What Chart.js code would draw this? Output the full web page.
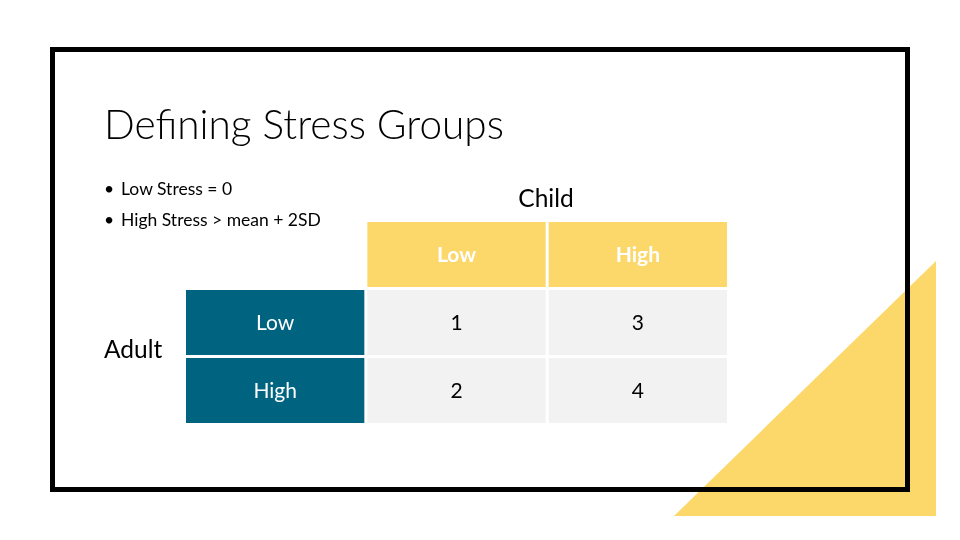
<!DOCTYPE html>
<html>
<head>
<meta charset="utf-8">
<script src="https://cdn.jsdelivr.net/npm/chart.js@4/dist/chart.umd.min.js"></script>
<style>
  html, body { margin: 0; padding: 0; background: #ffffff; }
  #slide { position: relative; width: 960px; height: 540px; overflow: hidden; background: #ffffff; font-family: Lato, "Open Sans", sans-serif; }
  #tri { position: absolute; left: 0; top: 0; }
  #frame { position: absolute; left: 50px; top: 47px; width: 860px; height: 445px; box-sizing: border-box; border: 5px solid #000; }
  #chartWrap { position: absolute; left: 0; top: 0; width: 960px; height: 540px; }
  .t { position: absolute; white-space: nowrap; color: #000; line-height: 1; }
  #title { left: 104px; top: 104px; font-size: 40.5px; font-weight: 300; }
  .bullet { left: 104px; font-size: 17.5px; }
  .bullet span { display: inline-block; width: 17px; }
  #child { font-size: 24.5px; left: 546px; top: 186px; transform: translateX(-50%); }
  #adult { font-size: 24.5px; left: 104px; top: 337px; }
</style>
</head>
<body>
<div id="slide">
  <svg id="tri" width="960" height="540"><polygon points="674,516 936,516 936,261" fill="#FCD86A"/></svg>
  <div id="frame"></div>
  <div id="chartWrap"><canvas id="c" width="960" height="540"></canvas></div>
  <div class="t" id="title"></div>
  <div class="t bullet" id="b0" style="top:180px"></div>
  <div class="t bullet" id="b1" style="top:211px"></div>
  <div class="t" id="child"></div>
  <div class="t" id="adult"></div>
</div>
<script>
// ---- data ----
const slideTitle = "Defining Stress Groups";
const bulletItems = ["Low Stress = 0", "High Stress > mean + 2SD"];
const childAxisTitle = "Child";
const adultAxisTitle = "Adult";
const childLevels = ["Low", "High"];          // columns
const adultLevels = ["Low", "High"];          // rows
const groupsAdultLow = [1, 3];                // Adult Low  x Child Low/High
const groupsAdultHigh = [2, 4];               // Adult High x Child Low/High

// ---- colours ----
const YELLOW = "#FCD86A";
const TEAL = "#006480";
const GREY = "#F2F2F2";

document.getElementById("title").textContent = slideTitle;
document.getElementById("b0").innerHTML = "<span>\u2022</span>" + bulletItems[0];
document.getElementById("b1").innerHTML = "<span>\u2022</span>" + bulletItems[1];
document.getElementById("child").textContent = childAxisTitle;
document.getElementById("adult").textContent = adultAxisTitle;

// columns: [row-label column, child levels...]
const columns = [""].concat(childLevels);
const unit = (n) => Array(n).fill(1);

// stacked from bottom: Adult High row, Adult Low row, header row
const rowTexts = [
  [adultLevels[1]].concat(groupsAdultHigh.map(String)),
  [adultLevels[0]].concat(groupsAdultLow.map(String)),
  [""].concat(childLevels)
];

const datasets = [
  { label: "Adult " + adultLevels[1], data: unit(columns.length), backgroundColor: [TEAL, GREY, GREY] },
  { label: "Adult " + adultLevels[0], data: unit(columns.length), backgroundColor: [TEAL, GREY, GREY] },
  { label: "Child", data: [null].concat(unit(childLevels.length)), backgroundColor: [YELLOW, YELLOW, YELLOW] }
];
datasets.forEach(d => {
  d.borderColor = "#ffffff";
  d.borderWidth = 1.5;
  d.borderSkipped = false;
  d.inflateAmount = 0;
  d.barPercentage = 1;
  d.categoryPercentage = 1;
});

const cellText = {
  id: "cellText",
  afterDatasetsDraw(chart) {
    const ctx = chart.ctx;
    ctx.save();
    ctx.textAlign = "center";
    ctx.textBaseline = "middle";
    chart.data.datasets.forEach((ds, di) => {
      const meta = chart.getDatasetMeta(di);
      meta.data.forEach((el, ci) => {
        const txt = rowTexts[di][ci];
        if (!txt || ds.data[ci] == null) return;
        const isHeader = di === 2;
        const isRowLabel = ci === 0;
        ctx.fillStyle = (isHeader || isRowLabel) ? "#ffffff" : "#000000";
        ctx.font = (isHeader ? "bold " : "") + "21px Lato, 'Open Sans', sans-serif";
        ctx.fillText(txt, el.x, (el.y + el.base) / 2 + 1);
      });
    });
    ctx.restore();
  }
};

new Chart(document.getElementById("c"), {
  type: "bar",
  data: { labels: columns, datasets: datasets },
  options: {
    responsive: false,
    animation: false,
    layout: { padding: { left: 184.5, right: 231.5, top: 220.5, bottom: 115.5 } },
    plugins: { legend: { display: false }, tooltip: { enabled: false }, title: { display: false } },
    scales: {
      x: { display: false, stacked: true },
      y: { display: false, stacked: true, min: 0, max: 3 }
    }
  },
  plugins: [cellText]
});
</script>
</body>
</html>
